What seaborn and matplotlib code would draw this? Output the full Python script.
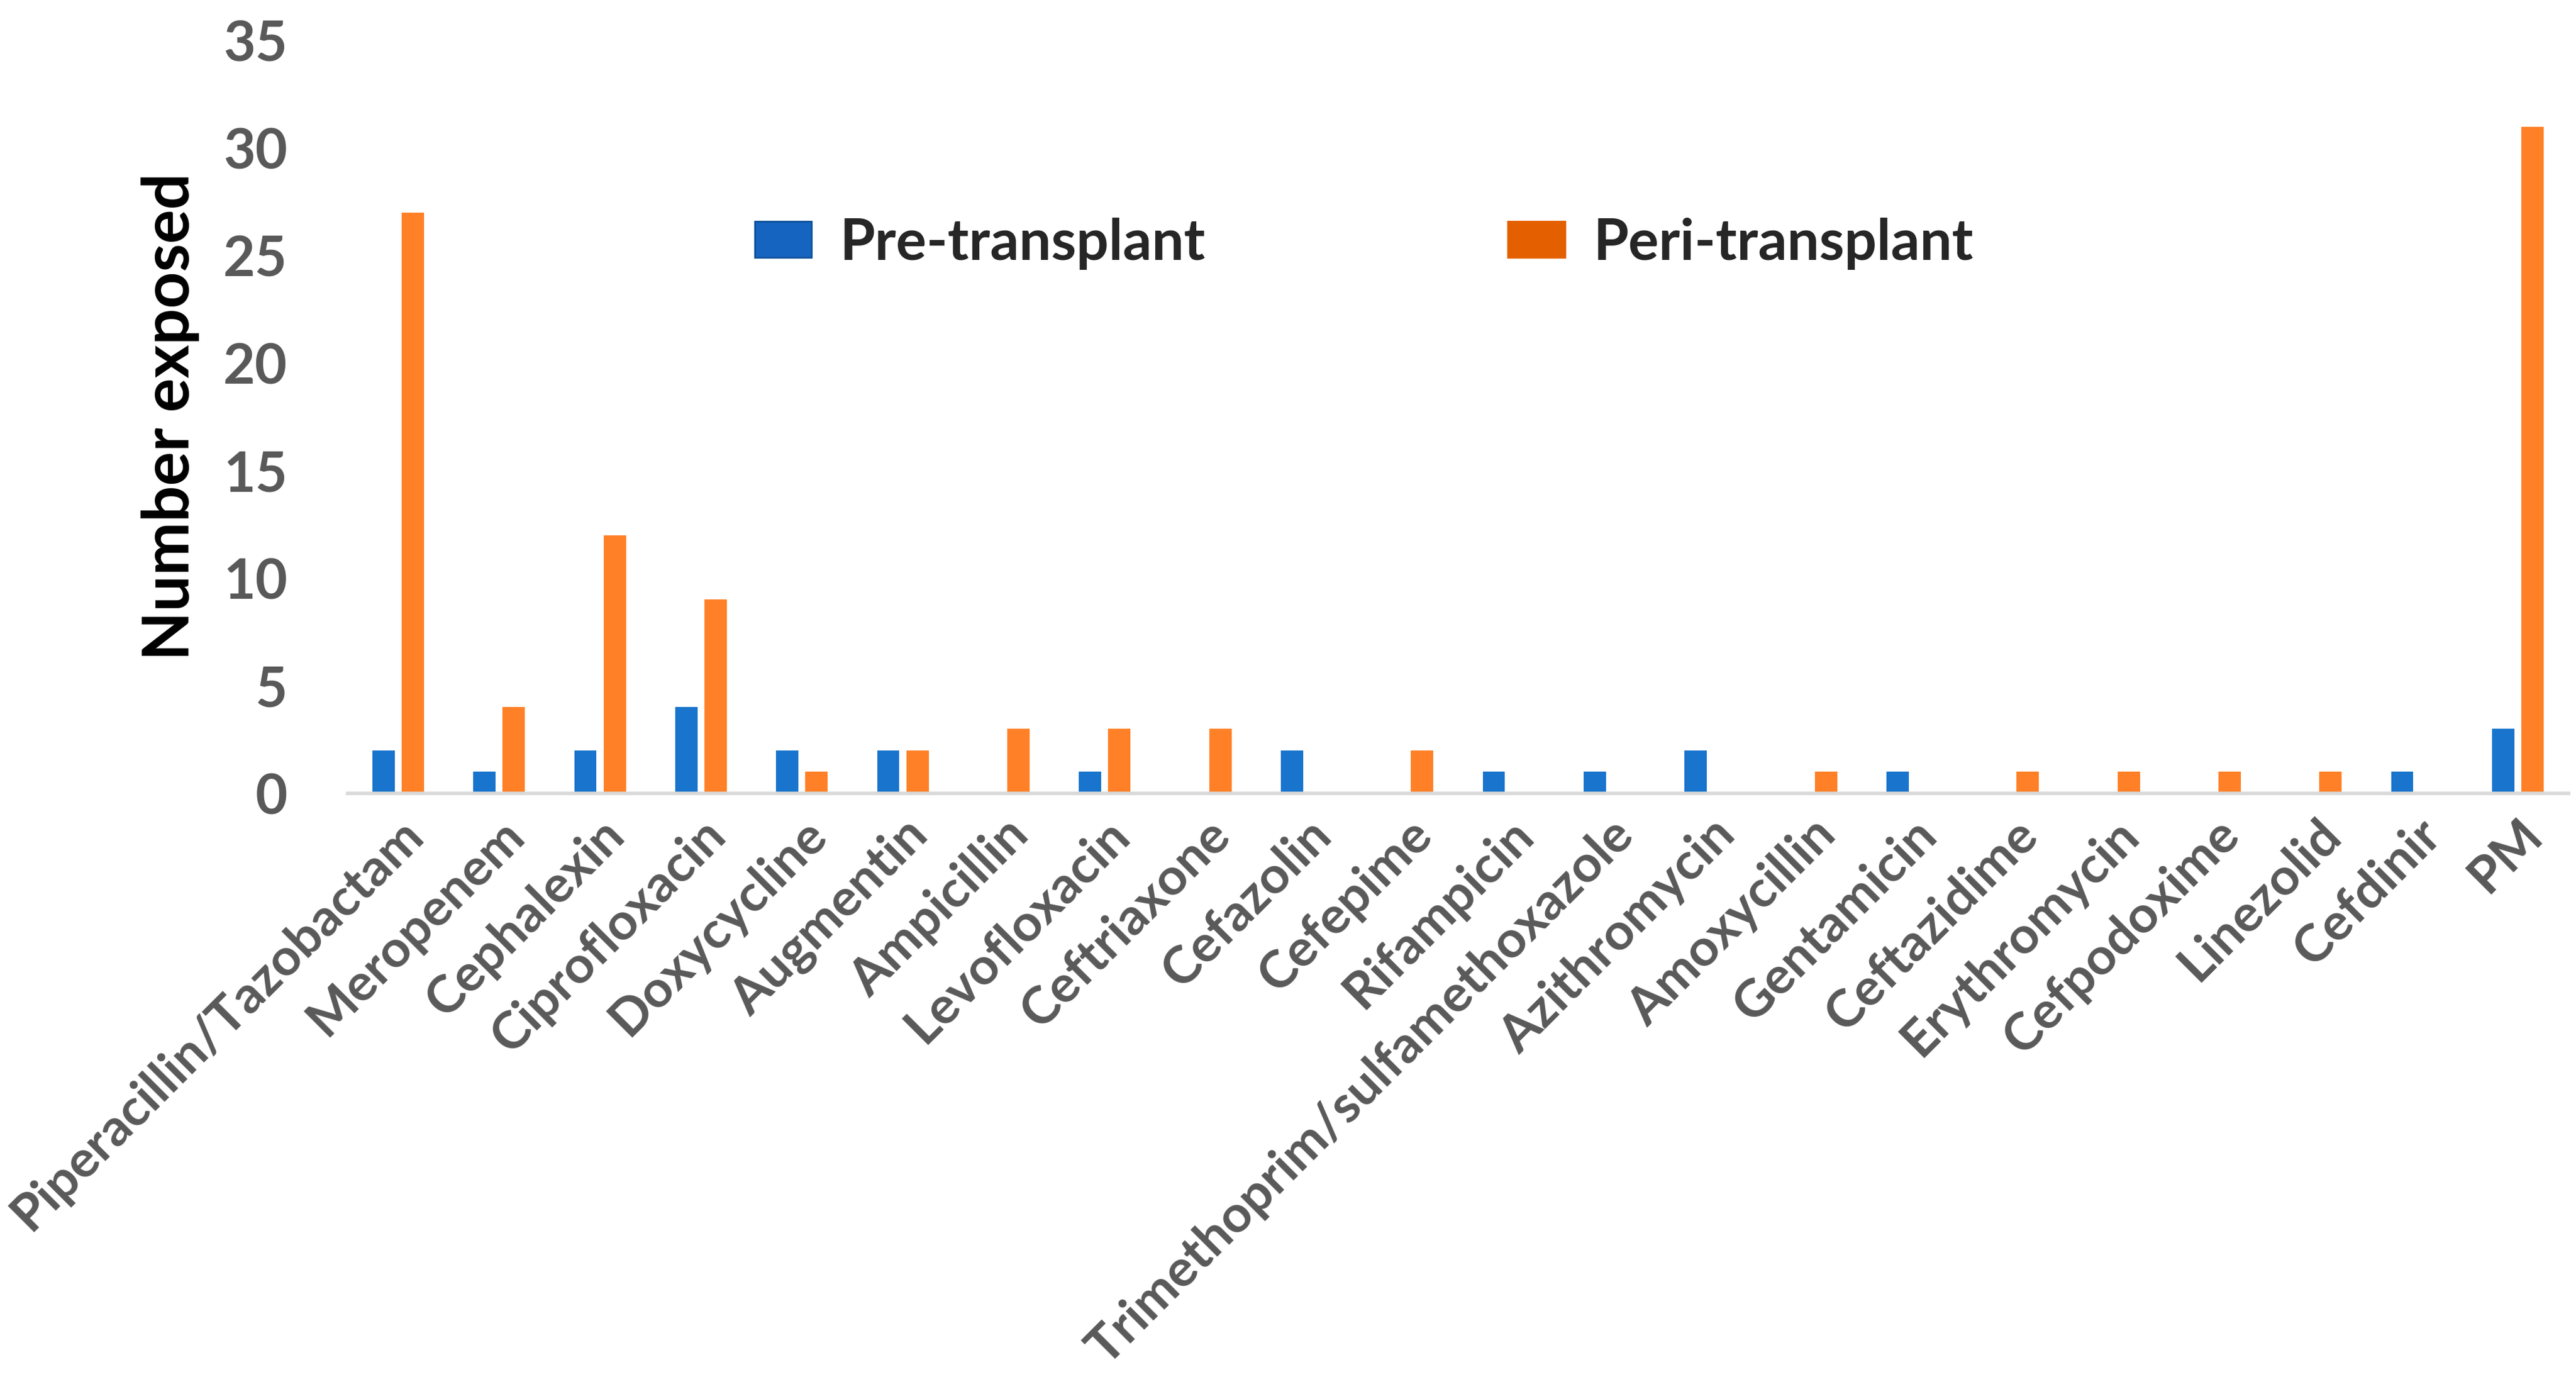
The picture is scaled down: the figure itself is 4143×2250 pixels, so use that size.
import pandas as pd
import matplotlib
matplotlib.use("Agg")
import matplotlib.pyplot as plt
import matplotlib.patches as mpatches
import seaborn as sns

drugs = ["Piperacillin/Tazobactam", "Meropenem", "Cephalexin", "Ciprofloxacin",
         "Doxycycline", "Augmentin", "Ampicillin", "Levofloxacin", "Ceftriaxone",
         "Cefazolin", "Cefepime", "Rifampicin", "Trimethoprim/sulfamethoxazole",
         "Azithromycin", "Amoxycillin", "Gentamicin", "Ceftazidime", "Erythromycin",
         "Cefpodoxime", "Linezolid", "Cefdinir", "PM"]
pre_transplant = [2, 1, 2, 4, 2, 2, 0, 1, 0, 2, 0, 1, 1, 2, 0, 1, 0, 0, 0, 0, 1, 3]
peri_transplant = [27, 4, 12, 9, 1, 2, 3, 3, 3, 0, 2, 0, 0, 0, 1, 0, 1, 1, 1, 1, 0, 31]
series = ["Pre-transplant", "Peri-transplant"]

df = pd.DataFrame({"drug": drugs * 2,
                   "period": [series[0]] * len(drugs) + [series[1]] * len(drugs),
                   "count": pre_transplant + peri_transplant})

sns.set_theme(style="white")
plt.rcParams['font.family'] = ['Lato', 'DejaVu Sans']

bar_colors = {"Pre-transplant": "#1874CD", "Peri-transplant": "#FF8026"}

fig = plt.figure(figsize=(41.43, 22.5), dpi=100)
ax = fig.add_axes([0.135, 0.433, 0.862, 0.538])

sns.barplot(data=df, x="drug", y="count", hue="period", palette=bar_colors,
            width=0.58, gap=0.24, saturation=1, ax=ax, legend=False, linewidth=0)

ax.set_xlim(-0.5, len(drugs) - 0.5)
ax.set_ylim(0, 35)
ax.set_yticks(range(0, 36, 5))
ax.set_xlabel("")
ax.set_ylabel("Number exposed", fontsize=74, fontweight="bold", color="black", labelpad=27)

for s in ["top", "right", "left"]:
    ax.spines[s].set_visible(False)
ax.spines["bottom"].set_color("#D9D9D9")
ax.spines["bottom"].set_linewidth(4)
ax.tick_params(axis="both", length=0)
ax.tick_params(axis="y", pad=70, labelsize=64, labelcolor="#595959")
ax.tick_params(axis="x", pad=20, labelsize=60, labelcolor="#595959")
plt.setp(ax.get_xticklabels(), rotation=45, ha="right", rotation_mode="anchor", fontweight="bold")
plt.setp(ax.get_yticklabels(), fontweight="bold")

handles = [mpatches.Patch(facecolor="#1565C0", edgecolor="#0D4F9A", linewidth=2),
           mpatches.Patch(facecolor="#E35F00", edgecolor="#E35F00", linewidth=2)]
leg = fig.legend(handles, series, loc="center left", bbox_to_anchor=(0.273, 0.826),
                 ncol=2, frameon=False, columnspacing=5.3, handlelength=1.0,
                 handleheight=0.6, handletextpad=0.5,
                 prop={"family": ["Lato", "DejaVu Sans"], "weight": "bold", "size": 66})

fig.savefig("out.png", dpi=100, facecolor="white")
